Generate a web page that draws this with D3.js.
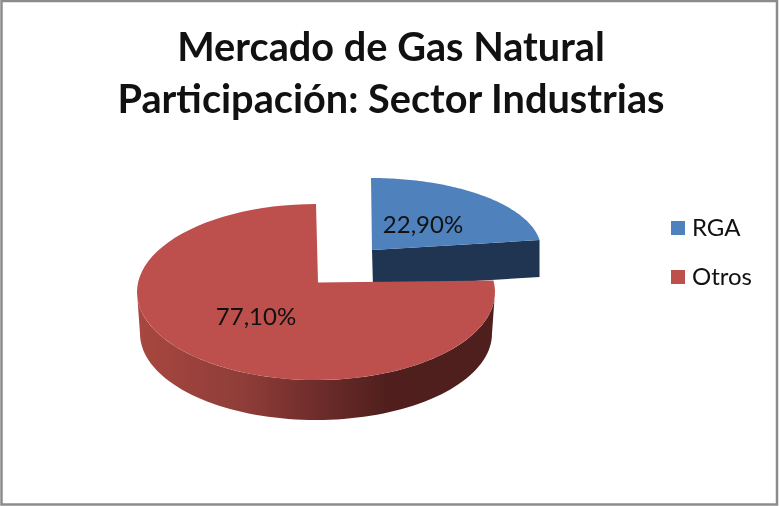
<!DOCTYPE html>
<html>
<head>
<meta charset="utf-8">
<script src="https://cdn.jsdelivr.net/npm/d3@7"></script>
<style>
  html, body { margin: 0; padding: 0; background: #fff; }
  svg { display: block; filter: blur(0.4px); }
  text { font-family: Lato, "Open Sans", sans-serif; fill: #111; }
</style>
</head>
<body>
<svg id="chart" width="779" height="506"></svg>
<script>
var categories = ['RGA', 'Otros'];
var shares = [22.9, 77.1];
var shareLabels = ['22,90%', '77,10%'];
var titleLines = ['Mercado de Gas Natural', 'Participación: Sector Industrias'];

var colors = d3.scaleOrdinal().domain(categories).range(['#4f81bd', '#bd4f4c']);

var svg = d3.select('#chart');

// the 3d look: every slice is a squashed ellipse with its own center, the apex sits off center
var shapes = {
  RGA: { cx: 371, cy: 249.5, rx: 170, ry: 71.5, ax: 372, ay: 250, depth: 37, lx: 423, ly: 225 },
  Otros: { cx: 316, cy: 292, rx: 179, ry: 88, ax: 318, ay: 282.5, depth: 41.5, lx: 256, ly: 317 }
};

var pie = d3.pie().sort(null).value(function(d) { return d; });
var slices = pie(shares);

var line = d3.line();

function rimPoint(s, a, dy, shrink) {
  return [s.cx + (s.rx - shrink) * Math.sin(a), s.cy + dy - (s.ry - shrink / 2) * Math.cos(a)];
}

function rim(s, from, to, dy, shrink) {
  var n = 80;
  return d3.range(n + 1).map(function(i) {
    return rimPoint(s, from + (to - from) * i / n, dy, shrink);
  });
}

var defs = svg.append('defs');
var grad = defs.append('linearGradient')
  .attr('id', 'redwall')
  .attr('gradientUnits', 'userSpaceOnUse')
  .attr('x1', 136).attr('x2', 494).attr('y1', 0).attr('y2', 0);
grad.selectAll('stop')
  .data([[0, '#a8473f'], [0.3, '#8f3d39'], [0.5, '#6f2d2b'], [0.7, '#501f1d'], [1, '#4e1f1d']])
  .enter().append('stop')
  .attr('offset', function(d) { return d[0]; })
  .attr('stop-color', function(d) { return d[1]; });

// chart border
svg.append('rect')
  .attr('x', 1.5).attr('y', 1).attr('width', 775.5).attr('height', 503.5)
  .attr('fill', '#fff').attr('stroke', '#8c8c8c').attr('stroke-width', 2.5);

// title
svg.append('g').selectAll('text')
  .data(titleLines)
  .enter().append('text')
  .attr('x', 391)
  .attr('y', function(d, i) { return 61 + i * 52; })
  .attr('text-anchor', 'middle')
  .attr('font-size', 39.7)
  .attr('font-weight', 700)
  .text(function(d) { return d; });

// blue slice first, the red one overlaps its wall
var rga = shapes.RGA;
var rgaEnd = slices[0].endAngle;
svg.append('path')
  .attr('d', line([
    [rga.ax, rga.ay],
    [rga.ax + 1, rga.ay + rga.depth],
    rimPoint(rga, rgaEnd, rga.depth, 0),
    rimPoint(rga, rgaEnd, 0, 0)
  ]) + 'Z')
  .attr('fill', '#1f3551');
svg.append('path')
  .attr('d', line([[rga.ax, rga.ay]].concat(rim(rga, slices[0].startAngle, rgaEnd, 0, 0))) + 'Z')
  .attr('fill', colors('RGA'));

// only the front half of the red wall can be seen
var otros = shapes.Otros;
var wallStart = Math.PI * 0.5;
var wallEnd = Math.PI * 1.5;
svg.append('path')
  .attr('d', line(rim(otros, wallStart, wallEnd, 0, 0).concat(rim(otros, wallStart, wallEnd, otros.depth, 3).reverse())) + 'Z')
  .attr('fill', 'url(#redwall)');
svg.append('path')
  .attr('d', line([[otros.ax, otros.ay]].concat(rim(otros, slices[1].startAngle, slices[1].endAngle, 0, 0))) + 'Z')
  .attr('fill', colors('Otros'));

// data labels
svg.append('g').selectAll('text')
  .data(categories)
  .enter().append('text')
  .attr('x', function(d) { return shapes[d].lx; })
  .attr('y', function(d) { return shapes[d].ly + 8; })
  .attr('text-anchor', 'middle')
  .attr('font-size', 24)
  .text(function(d, i) { return shareLabels[i]; });

// legend
var legendY = d3.scalePoint().domain(categories).range([221, 270]);
var legend = svg.append('g').selectAll('g')
  .data(categories)
  .enter().append('g')
  .attr('transform', function(d) { return 'translate(671,' + legendY(d) + ')'; });
legend.append('rect')
  .attr('width', 14).attr('height', 14)
  .attr('fill', function(d) { return colors(d); });
legend.append('text')
  .attr('x', 21).attr('y', 15)
  .attr('font-size', 24)
  .text(function(d) { return d; });
</script>
</body>
</html>
